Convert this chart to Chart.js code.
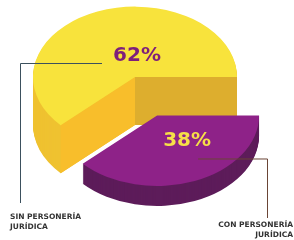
<!DOCTYPE html>
<html>
<head>
<meta charset="utf-8">
<script src="https://cdn.jsdelivr.net/npm/chart.js@4.4.0/dist/chart.umd.min.js"></script>
<style>
  html, body { margin: 0; padding: 0; background: #fff; }
  canvas { display: block; }
</style>
</head>
<body>
<canvas id="pieChart" width="294" height="240"></canvas>
<script>
// Data
const categories = [['SIN PERSONERÍA', 'JURÍDICA'], ['CON PERSONERÍA', 'JURÍDICA']];
const values = [62, 38];
const valueLabels = ['62%', '38%'];

// Look of the fake 3D pie
const TILT = 0.69;                 // vertical squash of the disc
const depths = [48, 20];           // thickness of each slice in px
const explode = [0, 60];           // how far each slice is pulled out
const topColors = ['#F8E33C', '#8E2288'];
const sideColors = ['#EFC231', '#5D1C5A'];
const wallStart = '#F8BE2B';       // cut face toward the missing slice
const wallEnd = '#DDAE2E';         // cut face along the flat edge
const textColors = ['#7E1F7B', '#F6DF48'];

const total = values.reduce((a, b) => a + b, 0);

function wall(ctx, arc, angle, depth, color) {
    const r = arc.outerRadius;
    const d = depth / TILT;
    const px = arc.x + Math.cos(angle) * r;
    const py = arc.y + Math.sin(angle) * r;
    ctx.beginPath();
    ctx.moveTo(arc.x, arc.y);
    ctx.lineTo(px, py);
    ctx.lineTo(px, py + d);
    ctx.lineTo(arc.x, arc.y + d);
    ctx.closePath();
    ctx.fillStyle = color;
    ctx.fill();
}

function shift(arc, i) {
    const mid = (arc.startAngle + arc.endAngle) / 2;
    return { dx: Math.cos(mid) * explode[i], dy: Math.sin(mid) * explode[i] };
}

const pie3d = {
    id: 'pie3d',
    beforeDatasetsDraw(chart) {
        const ctx = chart.ctx;
        const arcs = chart.getDatasetMeta(0).data;
        const cy = (chart.chartArea.top + chart.chartArea.bottom) / 2;
        ctx.save();
        ctx.translate(0, cy);
        ctx.scale(1, TILT);
        ctx.translate(0, -cy);
        arcs.forEach((arc, i) => {
            const s = shift(arc, i);
            ctx.save();
            ctx.translate(s.dx, s.dy);
            // stack copies of the slice downward for the side
            const side = Object.create(arc);
            side.options = Object.assign({}, arc.options, { backgroundColor: sideColors[i], borderWidth: 0 });
            for (let d = depths[i]; d > 0; d--) {
                ctx.save();
                ctx.translate(0, d / TILT);
                arc.draw.call(side, ctx);
                ctx.restore();
            }
            if (!explode[i]) {
                wall(ctx, arc, arc.endAngle, depths[i], wallEnd);
                wall(ctx, arc, arc.startAngle, depths[i], wallStart);
            }
            arc.draw(ctx);
            ctx.restore();
        });
        ctx.restore();
        return false;
    },
    afterDraw(chart) {
        const ctx = chart.ctx;
        const arcs = chart.getDatasetMeta(0).data;
        const cy = (chart.chartArea.top + chart.chartArea.bottom) / 2;
        ctx.save();
        // value labels inside slices
        const pos = arcs.map((arc, i) => {
            const s = shift(arc, i);
            return { x: arc.x + s.dx, y: cy + (arc.y + s.dy - cy) * TILT };
        });
        const spots = [
            { x: pos[0].x + 2, y: pos[0].y - 21 },
            { x: pos[1].x + 30, y: pos[1].y + 25 }
        ];
        ctx.font = 'bold 20px "DejaVu Sans"';
        ctx.textAlign = 'center';
        ctx.textBaseline = 'middle';
        valueLabels.forEach((t, i) => {
            ctx.fillStyle = textColors[i];
            ctx.fillText(t, spots[i].x, spots[i].y);
        });

        // leader lines
        ctx.lineWidth = 1;
        ctx.strokeStyle = '#3B505D';
        ctx.beginPath();
        ctx.moveTo(spots[0].x - 35, spots[0].y + 7.5);
        ctx.lineTo(20.5, spots[0].y + 7.5);
        ctx.lineTo(20.5, 203);
        ctx.stroke();
        ctx.strokeStyle = '#6A4536';
        ctx.beginPath();
        ctx.moveTo(spots[1].x + 11, spots[1].y + 18.5);
        ctx.lineTo(267.5, spots[1].y + 18.5);
        ctx.lineTo(267.5, 218);
        ctx.stroke();

        // category labels
        ctx.font = 'bold 7.5px "DejaVu Sans"';
        ctx.fillStyle = '#333333';
        ctx.textBaseline = 'alphabetic';
        ctx.textAlign = 'left';
        categories[0].forEach((line, j) => ctx.fillText(line, 10, 219 + j * 10));
        ctx.textAlign = 'right';
        categories[1].forEach((line, j) => ctx.fillText(line, 293, 227 + j * 10));
        ctx.restore();
    }
};

new Chart(document.getElementById('pieChart'), {
    type: 'pie',
    data: {
        labels: categories.map((c) => c.join(' ')),
        datasets: [{
            data: values,
            backgroundColor: topColors,
            borderWidth: 0,
            radius: 102,
            cutout: '0%',
            rotation: 90 + values[1] / total * 360
        }]
    },
    options: {
        responsive: false,
        animation: false,
        layout: { padding: { left: 0, right: 24, top: 0, bottom: 86 } },
        plugins: {
            legend: { display: false },
            tooltip: { enabled: false }
        }
    },
    plugins: [pie3d]
});
</script>
</body>
</html>
